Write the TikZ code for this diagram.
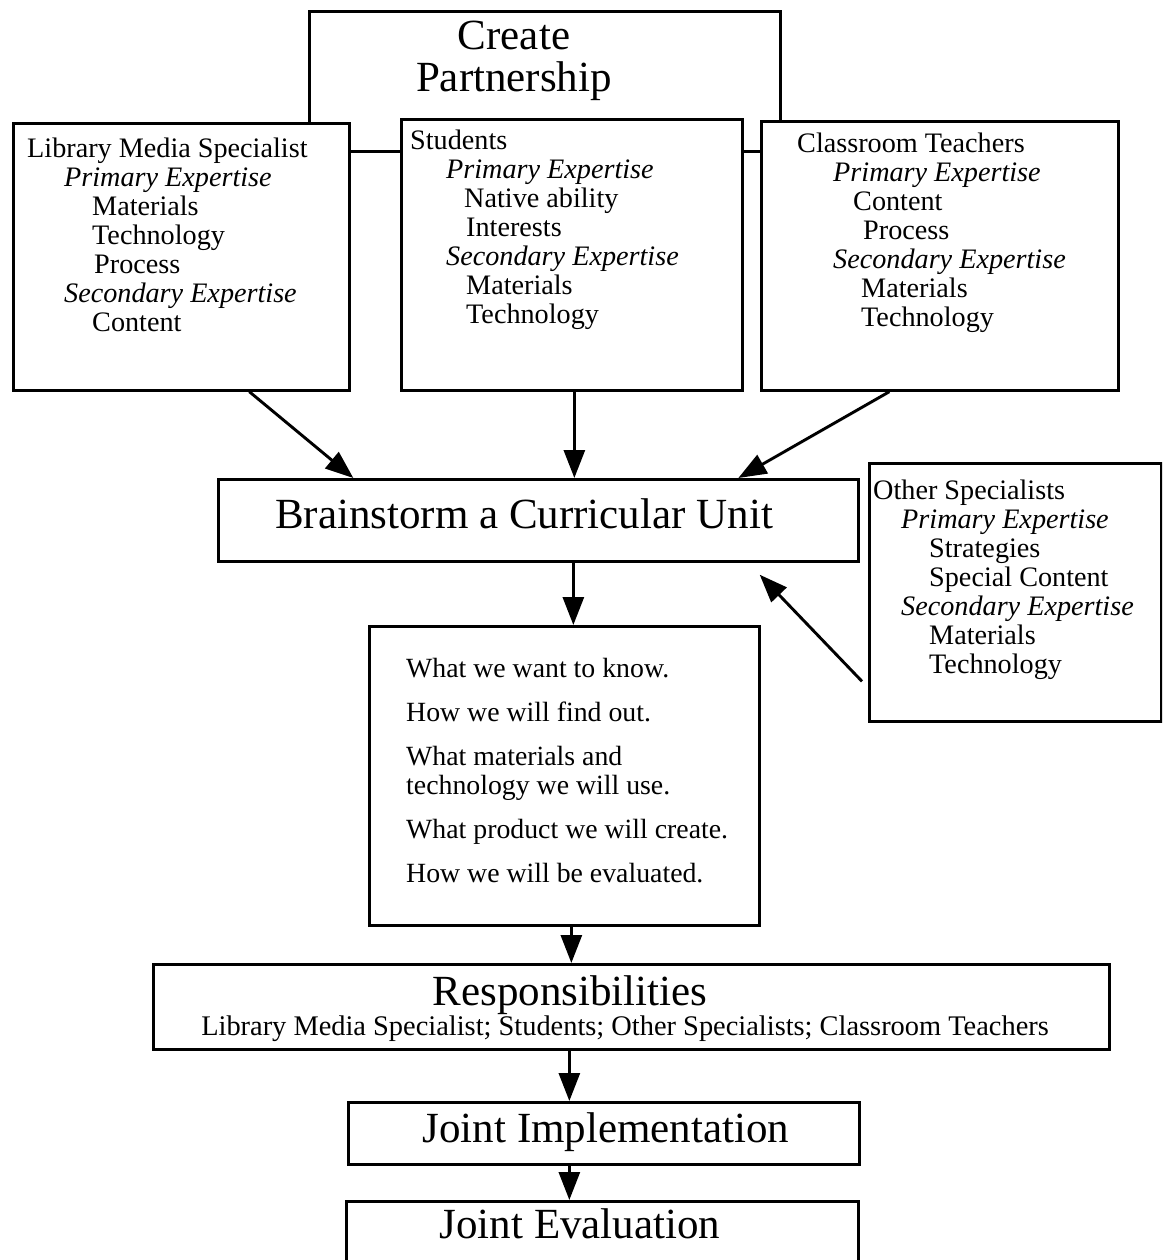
\documentclass[tikz,border=0pt]{standalone}
\usepackage{fontspec}
\setmainfont{Liberation Serif}
\usetikzlibrary{arrows.meta}
\begin{document}
\begin{tikzpicture}[x=1pt,y=-1pt,
  box/.style={draw, line width=2.7pt, fill=white, rectangle, inner sep=0pt, anchor=north west},
  txt/.style={inner sep=0pt, anchor=north west, align=left, font=\fontsize{28.2}{29}\selectfont},
  big/.style={inner sep=0pt, font=\fontsize{43}{42}\selectfont},
  arr/.style={line width=2.9pt, -{Triangle[length=28pt,width=21pt]}}]
\useasboundingbox (0,0) rectangle (1162,1260);
\clip (0,0) rectangle (1162,1260);

% partnership box, partly hidden behind the three partner boxes
\node[box, minimum width=471pt, minimum height=140pt] (create) at (308,10) {};
\node[big, align=center, anchor=north] (createT) at (514,21) {Create\\Partnership};

% the three partners
\node[box, minimum width=336pt, minimum height=267pt] (lms) at (12,122) {};
\node[txt] (lmsT) at (27,138) {Library Media Specialist\\
  \hspace*{37pt}\textit{Primary Expertise}\\
  \hspace*{65pt}Materials\\
  \hspace*{65pt}Technology\\
  \hspace*{67pt}Process\\
  \hspace*{37pt}\textit{Secondary Expertise}\\
  \hspace*{65pt}Content};

\node[box, minimum width=341pt, minimum height=271pt] (stu) at (400,118) {};
\node[txt] (stuT) at (410,130) {Students\\
  \hspace*{36pt}\textit{Primary Expertise}\\
  \hspace*{54pt}Native ability\\
  \hspace*{56pt}Interests\\
  \hspace*{36pt}\textit{Secondary Expertise}\\
  \hspace*{56pt}Materials\\
  \hspace*{56pt}Technology};

\node[box, minimum width=357pt, minimum height=269pt] (cls) at (760,120) {};
\node[txt] (clsT) at (797,133) {Classroom Teachers\\
  \hspace*{36pt}\textit{Primary Expertise}\\
  \hspace*{56pt}Content\\
  \hspace*{66pt}Process\\
  \hspace*{36pt}\textit{Secondary Expertise}\\
  \hspace*{64pt}Materials\\
  \hspace*{64pt}Technology};

% brainstorm step
\node[box, minimum width=640pt, minimum height=82pt] (brain) at (217,478) {};
\node[big, anchor=base] (brainT) at (524,528) {Brainstorm a Curricular Unit};

% other specialists
\node[box, minimum width=292pt, minimum height=258pt] (oth) at (868,462) {};
\node[txt] (othT) at (873,480) {Other Specialists\\
  \hspace*{28pt}\textit{Primary Expertise}\\
  \hspace*{56pt}Strategies\\
  \hspace*{56pt}Special Content\\
  \hspace*{28pt}\textit{Secondary Expertise}\\
  \hspace*{56pt}Materials\\
  \hspace*{56pt}Technology};

% planning questions
\node[box, minimum width=390pt, minimum height=299pt] (what) at (368,625) {};
\node[txt, font=\fontsize{27.8}{29}\selectfont] (whatT) at (406,658) {What we want to know.\\[15pt]
  How we will find out.\\[15pt]
  What materials and\\
  technology we will use.\\[15pt]
  What product we will create.\\[15pt]
  How we will be evaluated.};

% responsibilities
\node[box, minimum width=956pt, minimum height=85pt] (resp) at (152,963) {};
\node[big, anchor=base] (respT) at (570,1005) {Responsibilities};
\node[inner sep=0pt, anchor=base, font=\fontsize{28.4}{29}\selectfont] (respS) at (625,1035)
  {Library Media Specialist; Students; Other Specialists; Classroom Teachers};

% implementation and evaluation
\node[box, minimum width=511pt, minimum height=62pt] (impl) at (347,1101) {};
\node[big, anchor=base] (implT) at (606,1142) {Joint Implementation};
\node[box, minimum width=512pt, minimum height=100pt] (eval) at (345,1200) {};
\node[big, anchor=base] (evalT) at (580,1238) {Joint Evaluation};

% connectors
\draw[arr] ([xshift=68pt]lms.south) -- ([xshift=-185pt]brain.north);
\draw[arr] ([xshift=2.5pt]stu.south) -- ([xshift=36pt]brain.north);
\draw[arr] ([xshift=-50.5pt]cls.south) -- ([xshift=200pt]brain.north);
\draw[arr] ([xshift=35pt]brain.south) -- ([xshift=9pt]what.north);
\draw[arr] ([xshift=-6pt,yshift=-89pt]oth.west) -- ([xshift=-100pt,yshift=-12pt]brain.south east);
\draw[arr] ([xshift=7pt]what.south) -- ([xshift=-60pt]resp.north);
\draw[arr] ([xshift=-62pt]resp.south) -- ([xshift=-34.5pt]impl.north);
\draw[arr] ([xshift=-34.5pt]impl.south) -- ([xshift=-33pt]eval.north);
\end{tikzpicture}
\end{document}
